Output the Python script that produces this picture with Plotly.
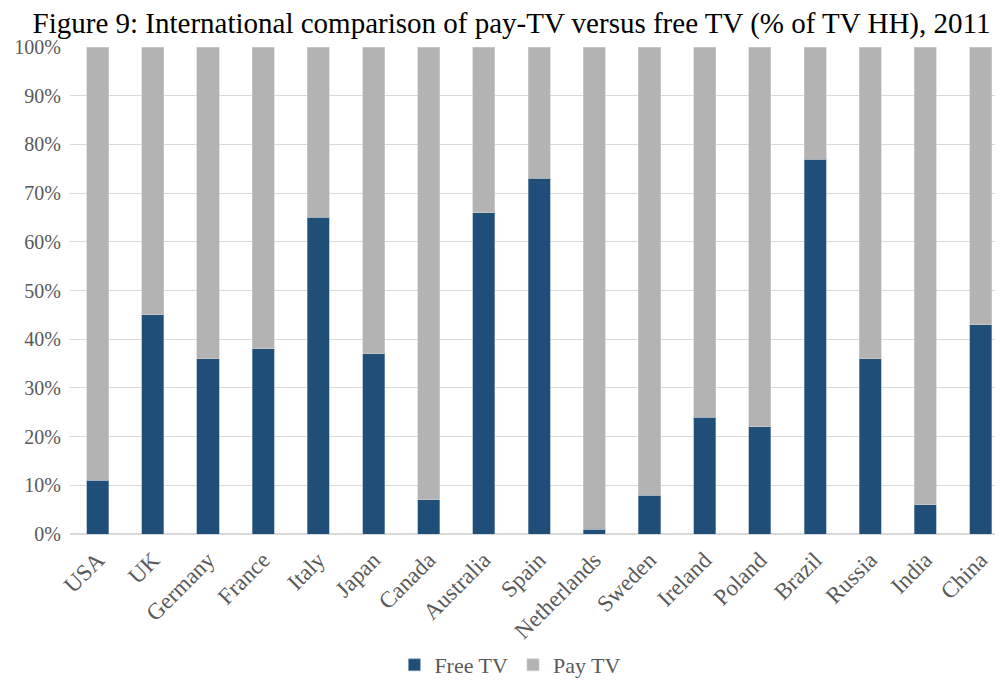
import plotly.graph_objects as go

countries = ["USA", "UK", "Germany", "France", "Italy", "Japan", "Canada", "Australia",
             "Spain", "Netherlands", "Sweden", "Ireland", "Poland", "Brazil", "Russia",
             "India", "China"]
free_tv = [11, 45, 36, 38, 65, 37, 7, 66, 73, 1, 8, 24, 22, 77, 36, 6, 43]
pay_tv = [100 - v for v in free_tv]
y_ticks = [0, 10, 20, 30, 40, 50, 60, 70, 80, 90, 100]
y_tick_labels = [f"{v}%" for v in y_ticks]

FONT = "Liberation Serif"

fig = go.Figure()
fig.add_trace(go.Bar(x=countries, y=free_tv, name="Free TV", marker_color="#1F4E79",
                     marker_line=dict(width=0.6, color="#8FA6BD")))
fig.add_trace(go.Bar(x=countries, y=pay_tv, name="Pay TV", marker_color="#B3B3B3",
                     marker_line=dict(width=0.6, color="#CFCFCF")))

fig.update_layout(
    barmode="stack",
    bargap=0.6,
    width=1003, height=681,
    margin=dict(l=62, r=0, t=39, b=155),
    paper_bgcolor="white", plot_bgcolor="white",
    font=dict(family=FONT, color="#595959", size=18),
    title=dict(text="Figure 9: International comparison of pay-TV versus free TV (% of TV HH), 2011",
               x=0.502, xanchor="center", y=0.978, yanchor="middle",
               font=dict(family=FONT, size=29, color="black")),
    legend=dict(orientation="h", x=0.468, xanchor="center", y=-0.269, yanchor="middle",
                font=dict(family=FONT, size=22, color="#595959"), traceorder="normal",
                itemwidth=30),
    xaxis=dict(range=[-0.5, 16.55], tickangle=-45, tickfont=dict(size=23),
               showgrid=False, showline=False, ticks="", automargin=False,
               ticklabelstandoff=7),
    yaxis=dict(range=[0, 100], tickvals=y_ticks, ticktext=y_tick_labels,
               tickfont=dict(size=20), showgrid=True, gridcolor="#D9D9D9", gridwidth=1,
               zeroline=True, zerolinecolor="#D9D9D9", zerolinewidth=2, ticks="",
               ticklabelstandoff=8, automargin=False),
)

fig.write_html("out.html")
